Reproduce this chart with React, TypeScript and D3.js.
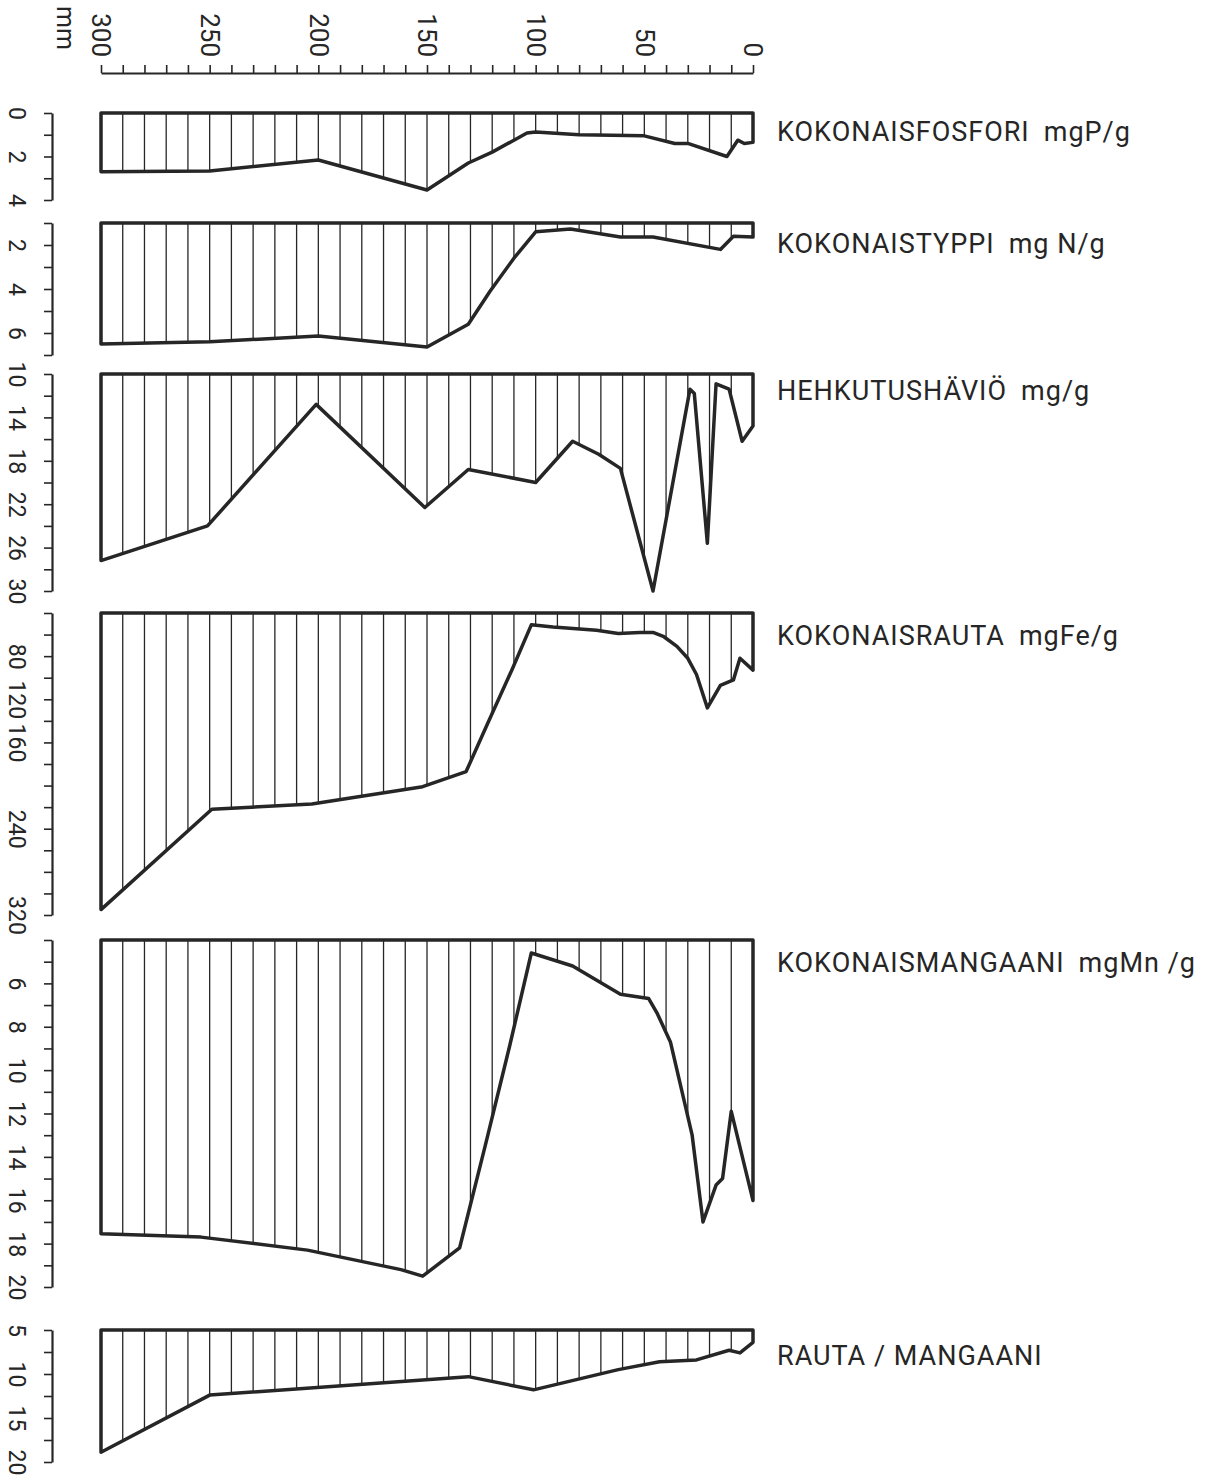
import React, { useEffect, useRef } from 'react';
import * as d3 from 'd3';

// depth of the sediment core, mm (top axis)
const depthLabels = [0, 50, 100, 150, 200, 250, 300];

// KOKONAISFOSFORI mgP/g
const phosDepth = [300, 250, 200, 150, 131, 120, 110, 104, 100, 80, 50, 36, 30, 12, 7, 4, 0];
const phosValue = [2.7, 2.67, 2.16, 3.54, 2.3, 1.8, 1.25, 0.92, 0.87, 1.0, 1.05, 1.4, 1.4, 2.0, 1.25, 1.4, 1.35];

// KOKONAISTYPPI mg N/g
const nitDepth = [300, 250, 200, 150, 131, 121, 110, 100, 84, 61, 46, 15, 9, 0];
const nitValue = [6.5, 6.4, 6.14, 6.64, 5.6, 4.1, 2.6, 1.4, 1.27, 1.64, 1.64, 2.2, 1.6, 1.64];

// HEHKUTUSHÄVIÖ mg/g
const lossDepth = [300, 251, 201, 151, 131, 100, 83, 71, 61, 46, 29, 27, 21, 17, 11, 5, 0];
const lossValue = [27.2, 24.0, 12.8, 22.3, 18.8, 20.0, 16.2, 17.4, 18.7, 30.0, 11.4, 11.8, 25.6, 10.9, 11.4, 16.2, 14.8];

// KOKONAISRAUTA mgFe/g
const ironDepth = [300, 249, 203, 152, 132, 122, 111, 102, 92, 72, 62, 52, 46, 41, 35, 30, 26, 21, 15, 9, 6, 0];
const ironValue = [315, 222, 217, 201, 187, 142, 93, 51, 53, 56, 59, 58, 58, 62, 71, 82, 97, 128, 107, 102, 82, 93];

// KOKONAISMANGAANI mgMn/g
const mnDepth = [300, 254, 205, 162, 152, 135, 123, 112, 102, 83, 61, 48, 44, 38, 28, 23, 17, 14, 10, 1];
const mnValue = [17.55, 17.7, 18.3, 19.2, 19.5, 18.2, 13.4, 8.9, 4.6, 5.2, 6.5, 6.7, 7.4, 8.7, 13.0, 17.0, 15.3, 15.0, 11.9, 15.6];

// RAUTA / MANGAANI
const ratioDepth = [300, 250, 131, 101, 62, 43, 26, 11, 6, 0];
const ratioValue = [18.9, 12.4, 10.3, 11.8, 9.5, 8.6, 8.4, 7.3, 7.6, 6.4];

const phosLabels = [0, 2, 4];
const nitLabels = [2, 4, 6];
const lossLabels = [10, 14, 18, 22, 26, 30];
const ironLabels = [80, 120, 160, 240, 320];
const mnLabels = [6, 8, 10, 12, 14, 16, 18, 20];
const ratioLabels = [5, 10, 15, 20];

const INK = '#262626';
const FONT = 'Roboto, "DejaVu Sans", sans-serif';

const panels = [
  { name: 'KOKONAISFOSFORI', unit: 'mgP/g', depth: phosDepth, value: phosValue, domain: [0, 4], step: 1, labels: phosLabels, range: [113, 200], labelY: 141 },
  { name: 'KOKONAISTYPPI', unit: 'mg N/g', depth: nitDepth, value: nitValue, domain: [1, 7], step: 1, labels: nitLabels, range: [223, 355], labelY: 253 },
  { name: 'HEHKUTUSHÄVIÖ', unit: 'mg/g', depth: lossDepth, value: lossValue, domain: [10, 30], step: 2, labels: lossLabels, range: [374, 591], labelY: 400 },
  { name: 'KOKONAISRAUTA', unit: 'mgFe/g', depth: ironDepth, value: ironValue, domain: [40, 320], step: 20, labels: ironLabels, range: [613, 915], labelY: 645 },
  { name: 'KOKONAISMANGAANI', unit: 'mgMn /g', depth: mnDepth, value: mnValue, domain: [4, 20], step: 1, labels: mnLabels, range: [940, 1287], labelY: 972 },
  { name: 'RAUTA / MANGAANI', unit: '', depth: ratioDepth, value: ratioValue, domain: [5, 20], step: 2.5, labels: ratioLabels, range: [1330, 1462], labelY: 1365 },
];

export default function App() {
  const ref = useRef<SVGSVGElement>(null);

  useEffect(() => {
    if (!ref.current) return;
    const svg = d3.select(ref.current);
    svg.selectAll('*').remove();

    const x = d3.scaleLinear().domain([300, 0]).range([101, 753]);

    // top depth axis
    const top = svg.append('g')
      .attr('transform', 'translate(0,73)')
      .call(d3.axisTop(x)
        .tickValues(d3.range(0, 301, 10))
        .tickSize(8)
        .tickSizeOuter(0)
        .tickFormat((d: any) => depthLabels.includes(d) ? String(d) : ''));
    top.select('.domain').attr('stroke', INK).attr('stroke-width', 2.2);
    top.selectAll('.tick line').attr('stroke', INK).attr('stroke-width', 1.6);
    top.selectAll('.tick text')
      .attr('x', 0).attr('y', 0)
      .attr('dy', '0.35em')
      .attr('transform', 'translate(0,-16) rotate(90)')
      .attr('text-anchor', 'end')
      .attr('fill', INK)
      .style('font-family', FONT)
      .style('font-size', '26px');

    svg.append('text')
      .attr('transform', 'translate(66,6) rotate(90)')
      .attr('dy', '0.35em')
      .attr('fill', INK)
      .style('font-family', FONT)
      .style('font-size', '25px')
      .text('mm');

    const hatchDepths = d3.range(10, 300, 10);

    panels.forEach(p => {
      const y = d3.scaleLinear().domain(p.domain).range(p.range);
      const profile = d3.scaleLinear().domain(p.depth).range(p.value);
      const base = y(p.domain[0]);

      // left value axis
      const ax = svg.append('g')
        .attr('transform', 'translate(52,0)')
        .call(d3.axisLeft(y)
          .tickValues(d3.range(p.domain[0], p.domain[1] + 1e-6, p.step))
          .tickSize(8)
          .tickSizeOuter(0)
          .tickFormat((d: any) => p.labels.includes(d) ? String(d) : ''));
      ax.select('.domain').attr('stroke', INK).attr('stroke-width', 2.2);
      ax.selectAll('.tick line').attr('stroke', INK).attr('stroke-width', 1.6);
      ax.selectAll('.tick text')
        .attr('x', 0).attr('y', 0)
        .attr('dy', '0.35em')
        .attr('transform', 'translate(-35,0) rotate(90)')
        .attr('text-anchor', 'middle')
        .attr('fill', INK)
        .style('font-family', FONT)
        .style('font-size', '23px');

      // hatching
      svg.append('g')
        .selectAll('line')
        .data(hatchDepths)
        .join('line')
        .attr('x1', d => x(d)).attr('x2', d => x(d))
        .attr('y1', base)
        .attr('y2', d => y(profile(d)))
        .attr('stroke', INK)
        .attr('stroke-width', 1.3);

      // outline: top line, edges and profile
      const pts: [number, number][] = [[x(300), base]];
      p.depth.forEach((d, i) => pts.push([x(d), y(p.value[i])]));
      pts.push([x(0), y(profile(0))]);
      pts.push([x(0), base]);
      svg.append('path')
        .attr('d', d3.line()(pts) + 'Z')
        .attr('fill', 'none')
        .attr('stroke', INK)
        .attr('stroke-width', 3.5)
        .attr('stroke-linejoin', 'round');

      const label = svg.append('text')
        .attr('x', 777)
        .attr('y', p.labelY)
        .attr('fill', INK)
        .style('font-family', FONT)
        .style('font-size', '27px')
        .style('letter-spacing', '1px');
      label.append('tspan').text(p.name);
      if (p.unit) label.append('tspan').attr('dx', 14).text(p.unit);
    });
  }, []);

  return (
    <div style={{ position: 'absolute', left: 0, top: 0, background: '#fff' }}>
      <svg ref={ref} width={1223} height={1479} style={{ display: 'block' }} />
    </div>
  );
}
